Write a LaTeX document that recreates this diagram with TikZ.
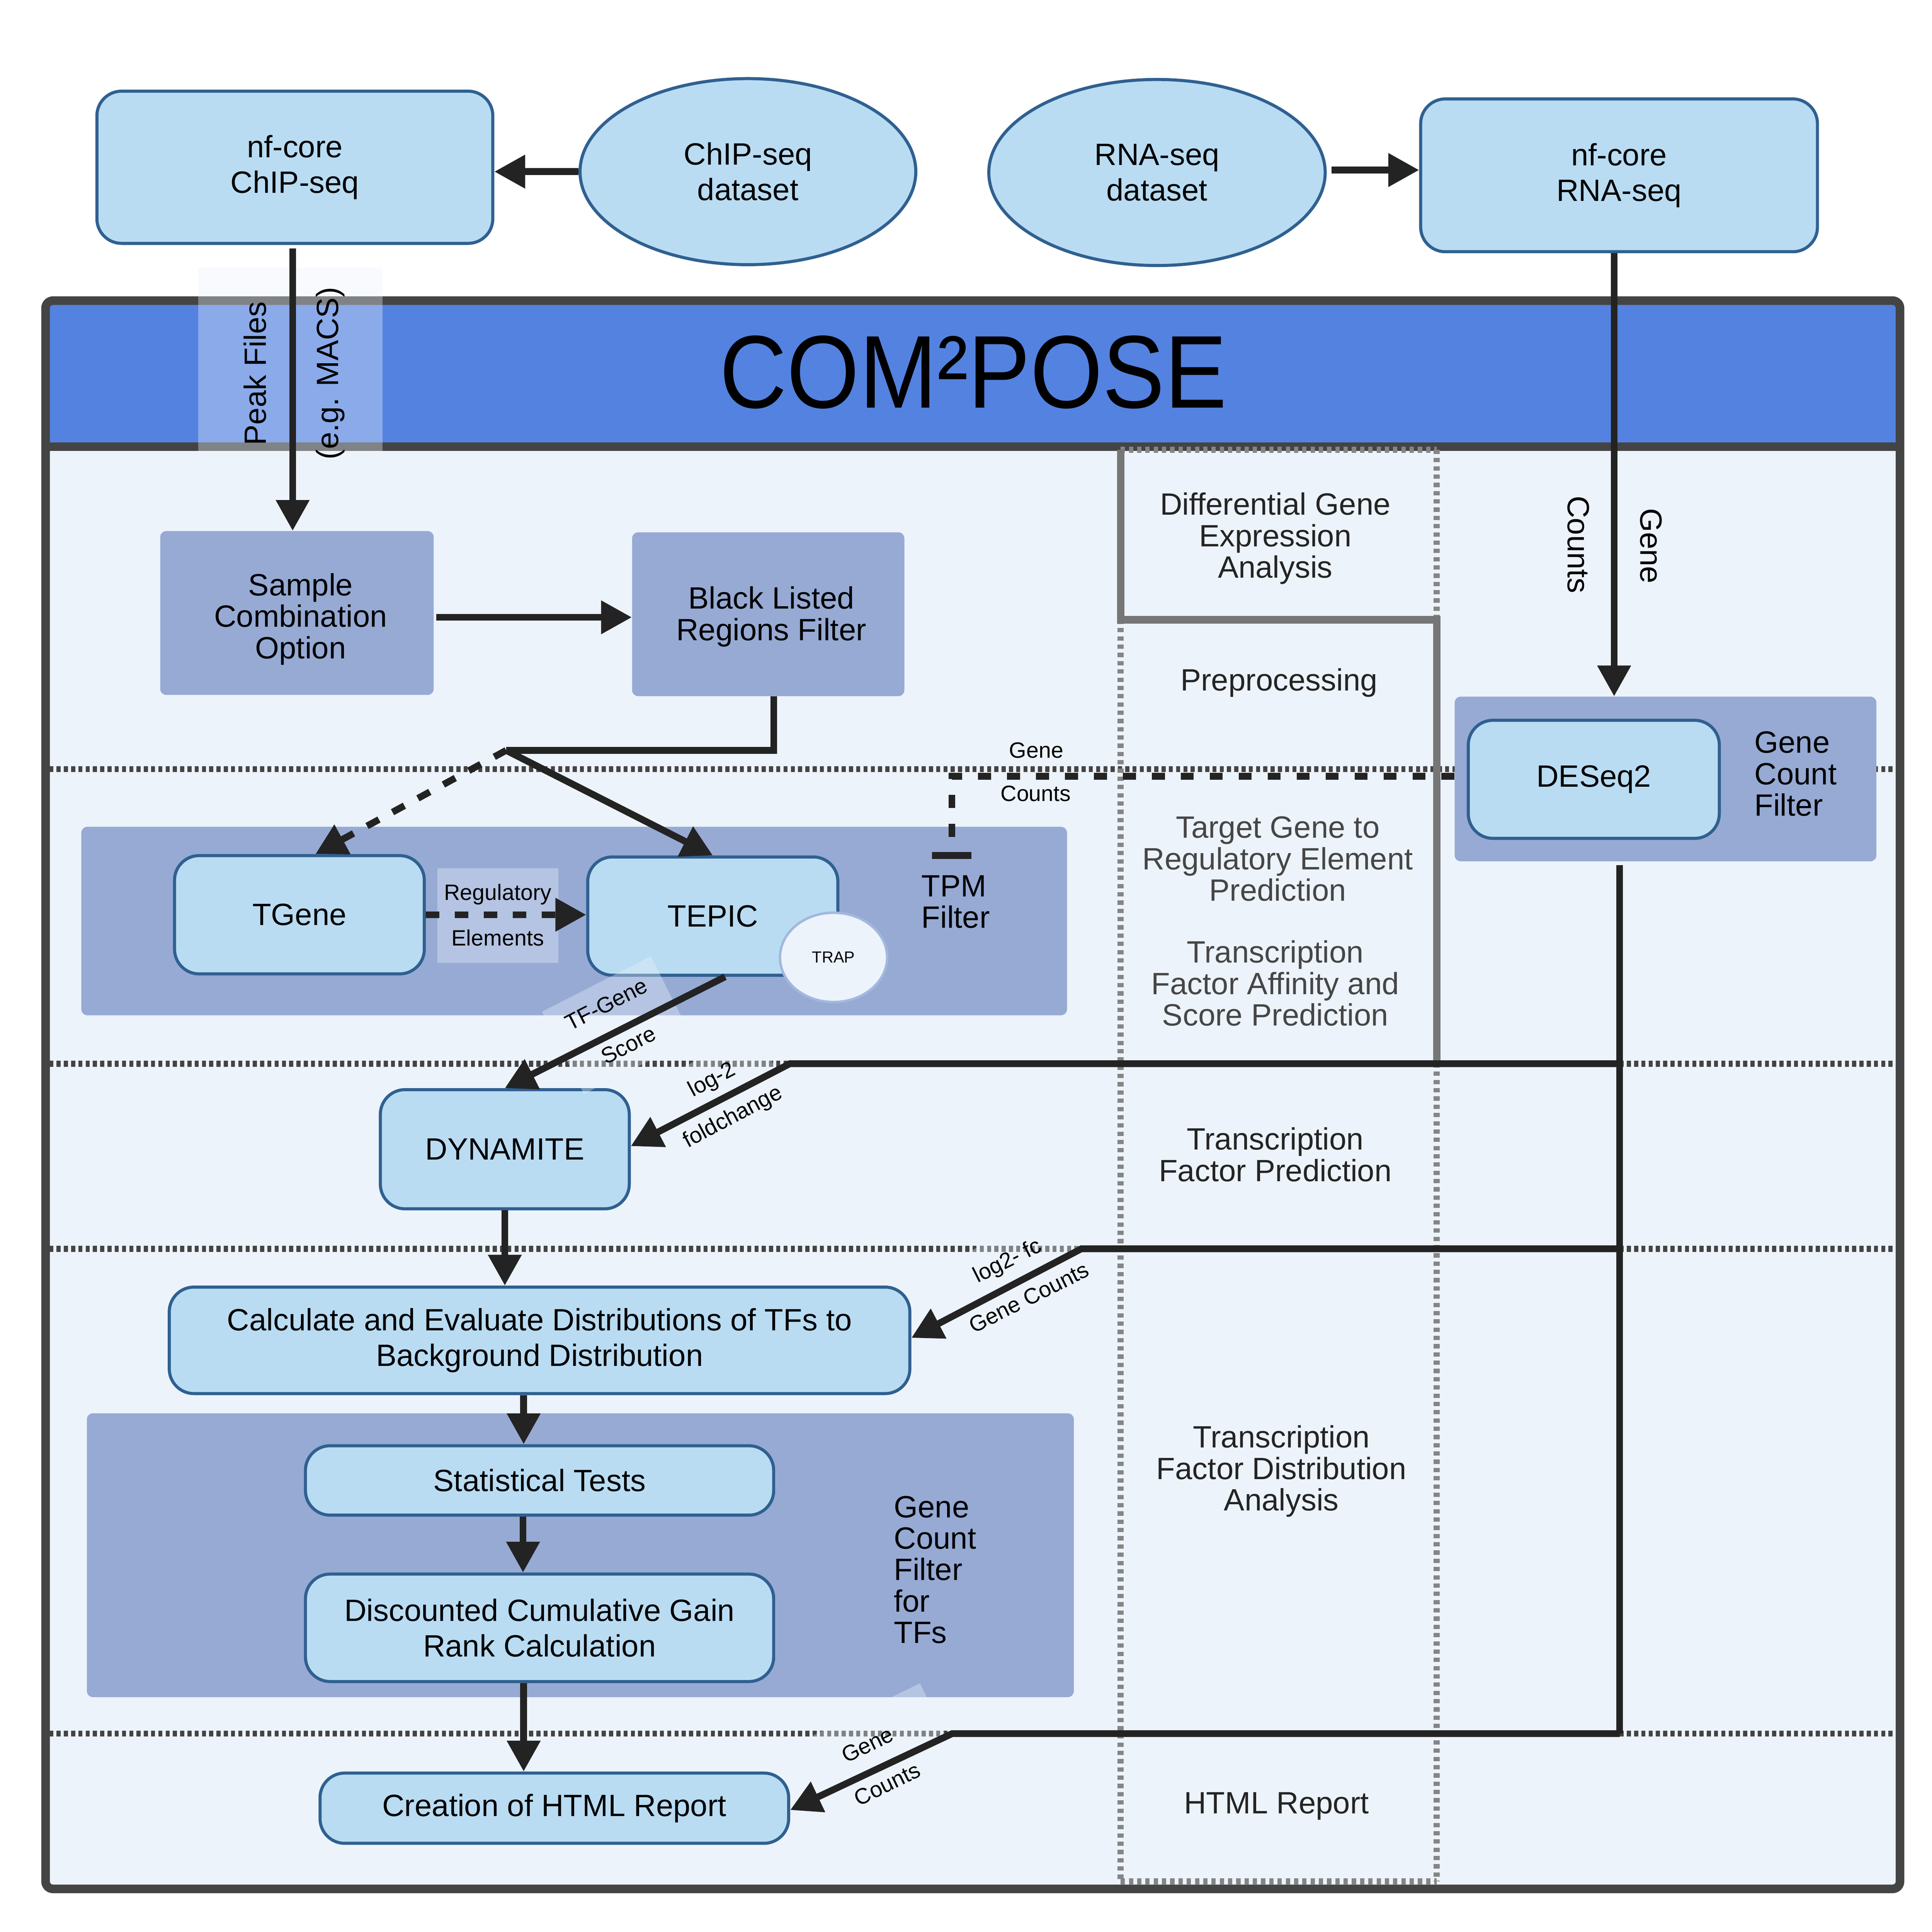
\documentclass[tikz,border=0pt]{standalone}
\usepackage{fontspec}
\setmainfont{Liberation Sans}
\usetikzlibrary{arrows.meta,shapes.geometric}
\definecolor{bgc}{HTML}{ECF3FB}
\definecolor{hdr}{HTML}{5482E1}
\definecolor{grpc}{HTML}{96AAD4}
\definecolor{boxc}{HTML}{B9DCF3}
\definecolor{boxl}{HTML}{2F6090}
\definecolor{linec}{HTML}{232323}
\definecolor{framec}{HTML}{444444}
\definecolor{sepc}{HTML}{444444}
\definecolor{colc}{HTML}{858585}
\definecolor{cols}{HTML}{767676}
\definecolor{labc}{HTML}{242424}
\definecolor{labd}{HTML}{464646}
\definecolor{trapl}{HTML}{A2B8DE}
\newcommand\mainsz{\fontsize{25}{25.5}\selectfont}
\newcommand\boxsz{\fontsize{25}{29}\selectfont}
\newcommand\smallsz{\fontsize{18}{20}\selectfont}
\newcommand\trapsz{\fontsize{13}{15}\selectfont}
\tikzset{
  pbox/.style={draw=boxl, fill=boxc, line width=2.5pt, rounded corners=20pt, inner sep=0pt, align=center, font=\boxsz},
  pell/.style={ellipse, draw=boxl, fill=boxc, line width=2.5pt, inner sep=0pt, align=center, font=\boxsz},
  gbox/.style={fill=grpc, rounded corners=5pt, inner sep=0pt, align=center, font=\mainsz},
  veil/.style={fill=bgc, fill opacity=0.36, inner sep=0pt},
  conn/.style={draw=linec, line width=5.5pt, -{Triangle[length=25pt,width=26pt]}},
  plainc/.style={draw=linec, line width=5.5pt},
  dashc/.style={conn, dash pattern=on 11pt off 12.5pt},
  gcline/.style={draw=linec, line width=5.5pt, dash pattern=on 10.5pt off 13pt, -{Bar[width=32pt]}},
  sepline/.style={draw=sepc, line width=4.8pt, dash pattern=on 3.3pt off 2.6pt},
  coldot/.style={draw=colc, line width=5pt, dash pattern=on 3.5pt off 3.2pt},
  colsolid/.style={draw=cols, line width=6pt},
  txt/.style={inner sep=0pt, align=center, font=\mainsz},
  ltxt/.style={inner sep=0pt, align=left, font=\mainsz},
  stxt/.style={inner sep=0pt, align=center, font=\smallsz},
}
\begin{document}
\begin{tikzpicture}[x=1pt,y=-1pt]
\useasboundingbox (0,0) rectangle (1568,1568);
\fill[white] (0,0) rectangle (1568,1568);

% ---- frame and header
\fill[bgc, rounded corners=6pt] (37,244) rectangle (1542,1533);
\fill[hdr] (37,244) rectangle (1542,362.6);
\draw[framec, line width=7pt] (37,362.6) -- (1542,362.6);
\draw[framec, line width=7pt, rounded corners=6pt] (37,244) rectangle (1542,1533);

% ---- separators
\draw[sepline] (40,624.3) -- (1539,624.3);
\draw[sepline] (40,863.3) -- (1539,863.3);
\draw[sepline] (40,1013.5) -- (1539,1013.5);
\draw[sepline] (40,1407) -- (1539,1407);

% ---- middle column
\draw[coldot] (909.5,365) -- (1166,365);
\draw[coldot] (1166,365) -- (1166,503);
\draw[coldot] (909.5,503) -- (909.5,1527);
\draw[coldot] (909.5,1527) -- (1166,1527);
\draw[coldot] (1166,863) -- (1166,1527);
\draw[colsolid] (909.5,365) -- (909.5,503) -- (1166,503) -- (1166,863);

% ---- groups
\node[gbox, minimum width=800pt, minimum height=153pt] (grp1) at (466,747.5) {};
\node[gbox, minimum width=801pt, minimum height=230.4pt] (grp2) at (471,1262.2) {};
\node[gbox, minimum width=342.3pt, minimum height=133.7pt] (deseqgrp) at (1351.7,632.2) {};
\node[gbox, minimum width=222pt, minimum height=133pt] (sample) at (241,497.5) {};
\node[gbox, minimum width=221pt, minimum height=133pt] (blk) at (623.5,498.5) {};
\node[txt] (sampletxt) at (244,502.5) {Sample\\Combination\\Option};
\node[txt] (blktxt) at (626,500.5) {Black Listed\\Regions Filter};

% ---- boxes
\node[pbox, minimum width=321.3pt, minimum height=123.5pt] (chipbox) at (239.3,135.75) {nf-core\\ChIP-seq};
\node[pell, minimum width=272.5pt, minimum height=151pt] (chipds) at (607,139.3) {ChIP-seq\\dataset};
\node[pell, minimum width=273pt, minimum height=151pt] (rnads) at (939,140) {RNA-seq\\dataset};
\node[pbox, minimum width=322pt, minimum height=124pt] (rnabox) at (1314,142.3) {nf-core\\RNA-seq};
\node[pbox, minimum width=202.7pt, minimum height=96pt] (tgene) at (243,742.4) {TGene};
\node[pbox, minimum width=203pt, minimum height=96pt] (tepic) at (578.5,743.5) {TEPIC};
\node[ellipse, draw=trapl, fill=bgc, line width=2pt, minimum width=87pt, minimum height=72.5pt, inner sep=0pt, font=\trapsz] (trap) at (676.5,777) {TRAP};
\node[pbox, minimum width=202pt, minimum height=96.7pt] (dyn) at (409.7,932.7) {DYNAMITE};
\node[pbox, minimum width=601pt, minimum height=86.4pt] (calc) at (437.9,1087.8) {Calculate and Evaluate Distributions of TFs to\\Background Distribution};
\node[pbox, minimum width=380pt, minimum height=56.3pt] (stat) at (437.9,1201.5) {Statistical Tests};
\node[pbox, minimum width=380pt, minimum height=87.2pt] (disc) at (437.9,1321.1) {Discounted Cumulative Gain\\Rank Calculation};
\node[pbox, minimum width=380.3pt, minimum height=57pt] (html) at (449.9,1467.5) {Creation of HTML Report};
\node[pbox, minimum width=203.7pt, minimum height=95.8pt] (deseq) at (1293.5,632.5) {DESeq2};

% ---- translucent label backgrounds
\node[veil, minimum width=149.5pt, minimum height=149pt] (peakveil) at (235.75,291.5) {};
\node[veil, minimum width=98pt, minimum height=77pt] (regveil) at (404,743) {};
\node[veil, minimum width=99pt, minimum height=75pt, rotate=27] (tfveil) at (501,832) {};
\node[veil, minimum width=100pt, minimum height=75pt, rotate=28] (logveil) at (586,892) {};
\node[veil, minimum width=120pt, minimum height=75pt, rotate=26.6] (fcveil) at (826,1038) {};
\node[veil, minimum width=120pt, minimum height=88pt, rotate=26] (gcveil) at (712,1432) {};

% ---- coordinates
\coordinate (jn) at (410.8,609);
\coordinate (gc) at (772.5,630);
\coordinate (tpmbar) at (772.5,697);
\coordinate (v0) at (1314.5,702);
\coordinate (v1) at (1314.5,863.3);
\coordinate (v2) at (1314.5,1013.5);
\coordinate (v3) at (1314.5,1407);
\coordinate (b1) at (641,863.3);
\coordinate (b2) at (877.6,1013.5);
\coordinate (b3) at (772.7,1407);

% ---- connectors
\draw[conn] (chipds.west) -- (chipds.west -| chipbox.east);
\draw[conn] ([xshift=4pt,yshift=2pt]rnads.east) -- ([yshift=2pt]rnads.east -| rnabox.west);
\draw[conn] ([xshift=-1.8pt,yshift=-3pt]chipbox.south) -- ([xshift=-1.8pt]chipbox.south |- sample.north);
\draw[conn] ([xshift=2pt,yshift=-3.5pt]sample.east) -- ([yshift=-3.5pt]sample.east -| blk.west);
\draw[plainc] ([xshift=4.5pt]blk.south) |- (jn);
\draw[conn] (jn) -- (tepic.north);
\draw[dashc] (jn) -- ([xshift=13pt]tgene.north);
\draw[dashc] (tgene.east) -- (tgene.east -| tepic.west);
\draw[conn] ([xshift=10pt]tepic.south) -- (dyn.north);
\draw[gcline] (gc -| deseqgrp.west) -- (gc) -- (tpmbar);
\draw[conn] ([xshift=-4pt]rnabox.south) -- ([xshift=-4pt]rnabox.south |- deseqgrp.north);
\draw[plainc] (v0) -- (v3);
\draw[conn] (v1) -- (b1) -- ([yshift=2.5pt]dyn.east);
\draw[conn] (v2) -- (b2) -- ([yshift=2pt]calc.east);
\draw[conn] (v3) -- (b3) -- ([yshift=-1.5pt]html.east);
\draw[conn] (dyn.south) -- (dyn.south |- calc.north);
\draw[conn] ([xshift=-12.9pt]calc.south) -- ([xshift=-12.9pt]stat.north);
\draw[conn] ([xshift=-13.4pt]stat.south) -- ([xshift=-13.4pt]disc.north);
\draw[conn] ([xshift=-12.9pt]disc.south) -- ([xshift=-24.9pt]html.north);

% ---- title and labels
\node[inner sep=0pt, font=\fontsize{84}{90}\selectfont] (title) at (790,302) {\scalebox{0.9}[1]{COM²POSE}};
\node[txt, rotate=90] (peak) at (207,303) {Peak Files};
\node[txt, rotate=90] (macs) at (268,303) {(e.g. MACS)};
\node[txt, rotate=-90] (cnt1) at (1281,442) {Counts};
\node[txt, rotate=-90] (gene1) at (1340,443) {Gene};
\node[stxt] (reg1) at (404,726) {Regulatory};
\node[stxt] (reg2) at (404,761) {Elements};
\node[ltxt, anchor=west] (tpm) at (747.6,732) {TPM\\Filter};
\node[stxt] (gc1) at (841,609) {Gene};
\node[stxt] (gc2) at (840.6,644) {Counts};
\node[stxt, rotate=27] (tf1) at (492,815) {TF-Gene};
\node[stxt, rotate=27] (tf2) at (510,848) {Score};
\node[stxt, rotate=28] (lg1) at (578,877) {log-2};
\node[stxt, rotate=28] (lg2) at (595,907) {foldchange};
\node[stxt, rotate=26.6] (fc1) at (818,1024) {log2- fc};
\node[stxt, rotate=26.6] (fc2) at (835,1053) {Gene Counts};
\node[stxt, rotate=26] (hc1) at (704,1416) {Gene};
\node[stxt, rotate=26] (hc2) at (720,1448) {Counts};
\node[ltxt, anchor=west] (gcf) at (1423.7,628) {Gene\\Count\\Filter};
\node[ltxt, anchor=west] (gcft) at (725.3,1274) {Gene\\Count\\Filter\\for\\TFs};

% ---- middle column labels
\node[txt, text=labc] (l1) at (1035,437) {Differential Gene\\Expression\\Analysis};
\node[txt, text=labc] (l2) at (1038,554) {Preprocessing};
\node[txt, text=labd] (l3) at (1037,697) {Target Gene to\\Regulatory Element\\Prediction};
\node[txt, text=labd] (l4) at (1035,798) {Transcription\\Factor Affinity and\\Score Prediction};
\node[txt, text=labc] (l5) at (1035,937) {Transcription\\Factor Prediction};
\node[txt, text=labc] (l6) at (1040,1194) {Transcription\\Factor Distribution\\Analysis};
\node[txt, text=labc] (l7) at (1036,1466) {HTML Report};
\end{tikzpicture}
\end{document}
